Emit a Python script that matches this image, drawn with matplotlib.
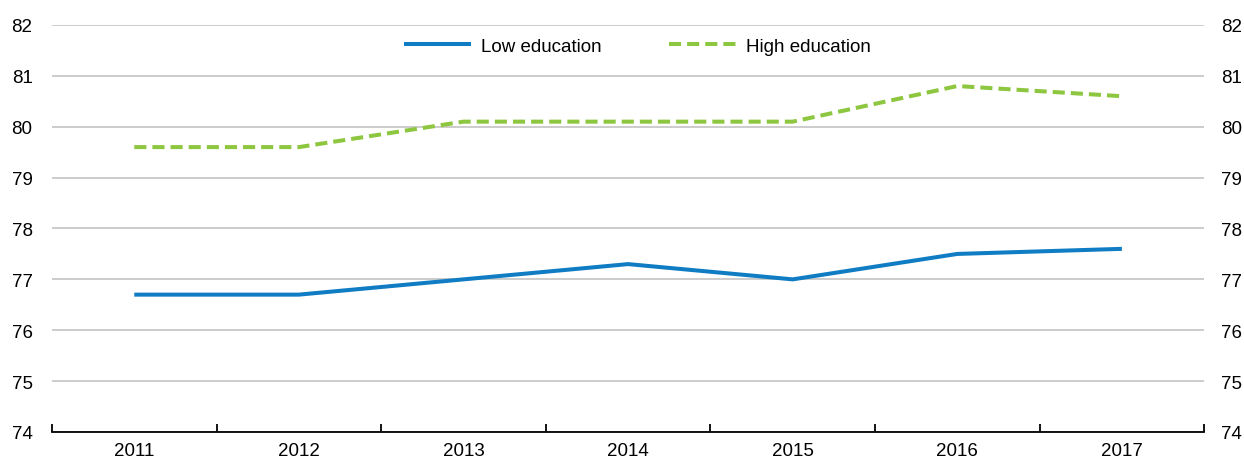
import matplotlib
matplotlib.use("Agg")
import numpy as np
from matplotlib import pyplot as plt
from matplotlib import font_manager

names = set(f.name for f in font_manager.fontManager.ttflist)
if 'Liberation Sans Narrow' in names:
    plt.rcParams['font.family'] = ['Liberation Sans Narrow', 'DejaVu Sans']
    fs = 15
else:
    plt.rcParams['font.family'] = ['Liberation Sans', 'DejaVu Sans']
    fs = 13.5
plt.rcParams['font.size'] = fs

years = ['2011', '2012', '2013', '2014', '2015', '2016', '2017']
low_edu = [76.7, 76.7, 77.0, 77.3, 77.0, 77.5, 77.6]
high_edu = [79.6, 79.6, 80.1, 80.1, 80.1, 80.8, 80.6]

blue = '#0F7CC3'
green = '#8DC63F'

fig = plt.figure(figsize=(12.44, 4.6), dpi=100)
ax = fig.add_axes([0.0418, 0.0587, 0.9262, 0.8848])

x = np.arange(len(years))
ax.plot(x, low_edu, color=blue, lw=2.9, label='Low education', solid_capstyle='butt')
ax.plot(x, high_edu, color=green, lw=2.9, ls=(0, (3.0, 1.5)), label='High education')

ax.set_xlim(-0.5, len(years) - 0.5)
ax.set_ylim(74, 82)
ax.set_yticks(range(74, 83))
ax.yaxis.grid(True, color='#c8c8c8', lw=1.3)
ax.set_axisbelow(True)
for s in ['top', 'right', 'left']:
    ax.spines[s].set_visible(False)
ax.spines['bottom'].set_linewidth(1.3)
ax.spines['bottom'].set_color('black')

ax.set_xticks(x)
ax.set_xticklabels(years)
ax.tick_params(axis='x', which='major', length=0, pad=7)
ax.set_xticks(np.arange(-0.5, len(years)), minor=True)
ax.tick_params(axis='x', which='minor', direction='in', length=6, width=1.3, color='black')
ax.tick_params(axis='y', length=0, pad=14)

ax2 = ax.twinx()
ax2.set_ylim(74, 82)
ax2.set_yticks(range(74, 83))
for s in ax2.spines.values():
    s.set_visible(False)
ax2.tick_params(axis='y', length=0, pad=12)

ax.legend(loc='upper center', bbox_to_anchor=(0.508, 1.01), ncol=2, frameon=False,
          handlelength=3.6, columnspacing=3.6, handletextpad=0.5, fontsize=fs)

fig.savefig('out.png', dpi=100)
